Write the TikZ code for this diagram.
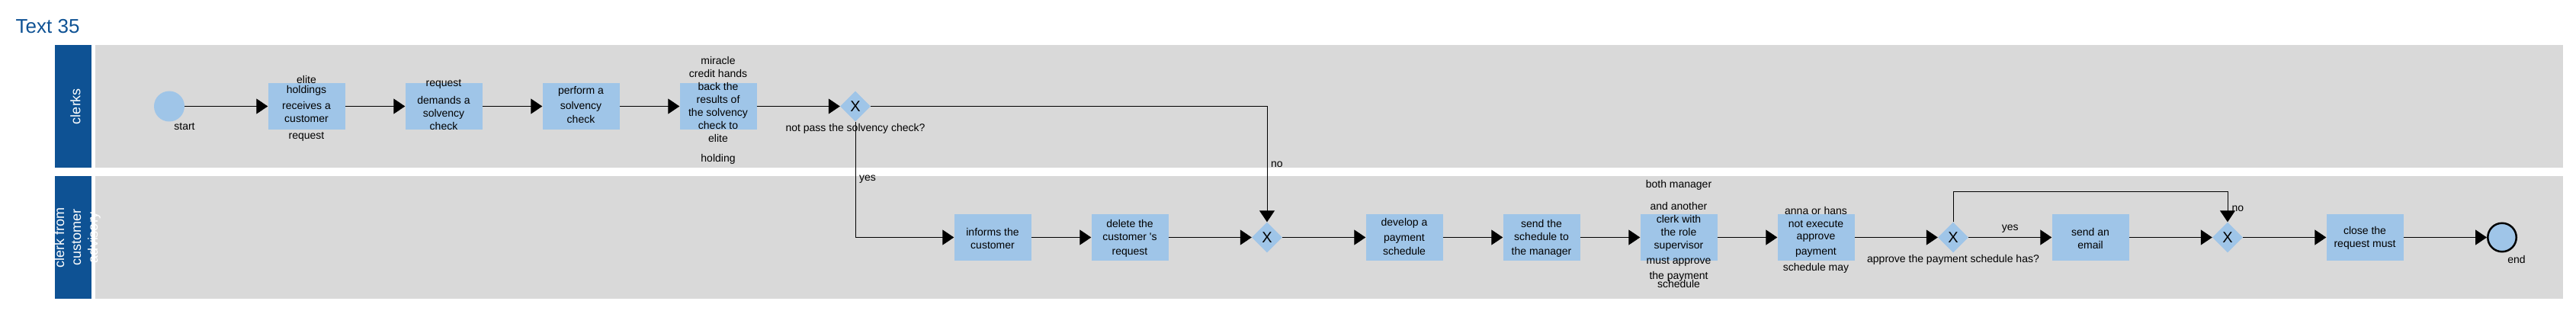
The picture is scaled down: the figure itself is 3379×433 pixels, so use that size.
\documentclass[tikz,border=0pt]{standalone}
\usepackage{fontspec}
\setmainfont{Liberation Sans}
\usepackage{tikz}
\usetikzlibrary{shapes,arrows,arrows.meta,positioning}

\definecolor{lanegray}{HTML}{D9D9D9}
\definecolor{headblue}{HTML}{0E5294}
\definecolor{taskblue}{HTML}{9FC5E8}

\begin{document}
\begin{tikzpicture}[x=1pt, y=-1pt, on grid, node distance=172pt and 180pt]
    \tikzset{
        task/.style     =   { rectangle
                            , fill=taskblue
                            , inner sep=0pt
                            , minimum width=101pt
                            , minimum height=61pt
        }
        , txt/.style    =   { align=center
                            , inner sep=0pt
                            , font=\fontsize{14}{17}\selectfont
        }
        , gate/.style   =   { diamond
                            , aspect=1
                            , fill=taskblue
                            , inner sep=0pt
                            , minimum width=40pt
                            , minimum height=40pt
                            , font=\fontsize{20}{24}\selectfont
        }
        , startev/.style =  { circle
                            , fill=taskblue
                            , inner sep=0pt
                            , minimum size=40pt
        }
        , endev/.style  =   { circle
                            , fill=taskblue
                            , draw=black
                            , line width=2.5pt
                            , inner sep=0pt
                            , minimum size=37.5pt
        }
        , arrow/.style  =   { -{Triangle[length=15pt, width=20pt]}
                            , line width=1pt
        }
        , lbl/.style    =   { inner sep=0pt
                            , font=\fontsize{14}{17}\selectfont
        }
        , lanelbl/.style =  { rotate=90
                            , align=center
                            , text=white
                            , inner sep=0pt
                            , font=\fontsize{18}{22}\selectfont
        }
    }
    \useasboundingbox (0,0) rectangle (3379,433);

    % lanes
    \fill[headblue] (72,59) rectangle (120,220);
    \fill[lanegray] (125,59) rectangle (3362,220);
    \fill[headblue] (72,231) rectangle (120,392);
    \fill[lanegray] (125,231) rectangle (3362,392);

    \node(title)[anchor=base west, inner sep=0pt, text=headblue, font=\fontsize{26}{30}\selectfont] at (20.5,44) {Text 35};
    \node(lane1)[lanelbl] at (99,139.5) {clerks};
    \node(lane2)[lanelbl] at (101.5,311.5) {clerk from\\customer\\advisory};

    % clerks
    \node(0)[startev, label={[lbl, label distance=2pt, xshift=20pt]below:start}] at (222,139.5) {};
    \node(1)[task, right=of 0] {};
    \node(1t)[txt, yshift=-3pt] at (1) {elite\\[-4pt]holdings\\[4pt]receives a\\customer\\[5pt]request};
    \node(2)[task, right=of 1] {};
    \node(2t)[txt, yshift=2pt] at (2) {request\\[6pt]demands a\\solvency\\check};
    \node(3)[task, right=of 2] {};
    \node(3t)[txt, yshift=1.5pt] at (3) {perform a\\[3pt]solvency\\[1pt]check};
    \node(4)[task, right=of 3] {};
    \node(4t)[txt, yshift=-5.5pt] at (4) {miracle\\credit hands\\back the\\results of\\the solvency\\check to\\elite\\[9pt]holding};
    \node(5)[gate, right=of 4, label={[lbl, label distance=2pt]below:not pass the solvency check?}] {X};

    % clerk from customer advisory
    \node(6)[task, below right=of 5] {};
    \node(6t)[txt, yshift=-1pt] at (6) {informs the\\customer};
    \node(7)[task, right=of 6] {};
    \node(7t)[txt, yshift=-1.5pt] at (7) {delete the\\customer \textquotesingle s\\[2pt]request};
    \node(8)[gate, right=of 7] {X};
    \node(9)[task, right=of 8] {};
    \node(9t)[txt, yshift=1.5pt] at (9) {develop a\\[3pt]payment\\[1pt]schedule};
    \node(10)[task, right=of 9] {};
    \node(10t)[txt, yshift=-1.5pt] at (10) {send the\\schedule to\\[2pt]the manager};
    \node(11)[task, right=of 10] {};
    \node(11t)[txt, yshift=5pt] at (11) {both manager\\[12pt]and another\\clerk with\\the role\\supervisor\\[3pt]must approve\\[3pt]the payment\\[-6pt]schedule};
    \node(12)[task, right=of 11] {};
    \node(12t)[txt, yshift=-3.5pt] at (12) {anna or hans\\not execute\\[-1pt]approve\\[3pt]payment\\[4pt]schedule may};
    \node(13)[gate, right=of 12, label={[lbl, label distance=2pt]below:approve the payment schedule has?}] {X};
    \node(14)[task, right=of 13] {};
    \node(14t)[txt, yshift=-1pt] at (14) {send an\\email};
    \node(15)[gate, right=of 14] {X};
    \node(16)[task, right=of 15] {};
    \node(16t)[txt, yshift=-1pt] at (16) {close the\\request must};
    \node(17)[endev, right=of 16, label={[lbl, label distance=3.5pt, xshift=19pt]below:end}] {};

    \draw[arrow] (0) -- (1);
    \draw[arrow] (1) -- (2);
    \draw[arrow] (2) -- (3);
    \draw[arrow] (3) -- (4);
    \draw[arrow] (4) -- (5);
    \draw[arrow] (5) -| node[lbl, pos=0.75, anchor=west, xshift=4.5pt]{no} (8);
    \draw[arrow] (5) |- node[lbl, pos=0.25, anchor=west, xshift=4.5pt]{yes} (6);
    \draw[arrow] (6) -- (7);
    \draw[arrow] (7) -- (8);
    \draw[arrow] (8) -- (9);
    \draw[arrow] (9) -- (10);
    \draw[arrow] (10) -- (11);
    \draw[arrow] (11) -- (12);
    \draw[arrow] (12) -- (13);
    \draw[arrow] (13) -- node[lbl, midway, anchor=south, yshift=5.5pt]{yes} (14);
    \draw[arrow] (13) -- ++(0,-60) -| node[lbl, pos=0.78, anchor=west, xshift=5pt]{no} (15);
    \draw[arrow] (14) -- (15);
    \draw[arrow] (15) -- (16);
    \draw[arrow] (16) -- (17);
\end{tikzpicture}
\end{document}
